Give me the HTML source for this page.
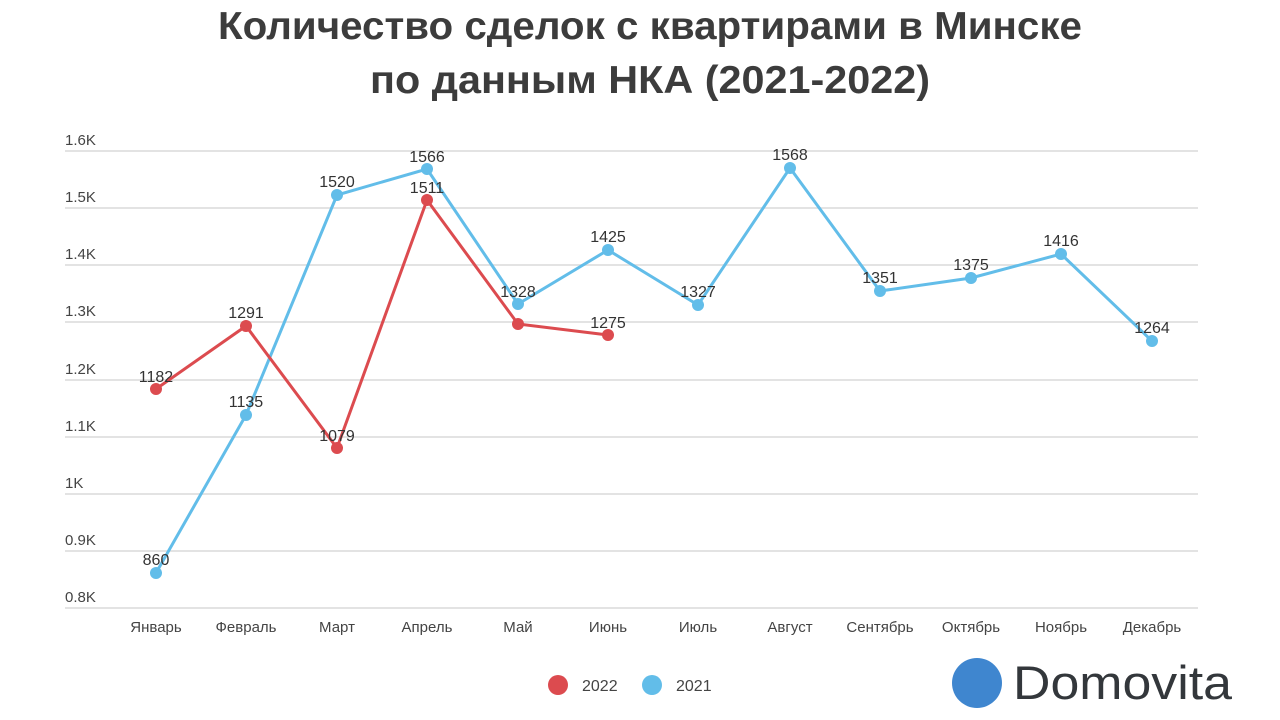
<!DOCTYPE html>
<html><head><meta charset="utf-8"><style>
html,body{margin:0;padding:0;background:#fff;}
svg{display:block;font-family:"Liberation Sans","DejaVu Sans",sans-serif;}
</style></head><body>
<svg width="1280" height="720" viewBox="0 0 1280 720" xmlns="http://www.w3.org/2000/svg">
<text x="218" y="39" textLength="864" lengthAdjust="spacingAndGlyphs" font-size="39" font-weight="bold" fill="#3c3c3c">Количество сделок с квартирами в Минске</text>
<text x="370" y="93" textLength="560" lengthAdjust="spacingAndGlyphs" font-size="39" font-weight="bold" fill="#3c3c3c">по данным НКА (2021-2022)</text>
<g stroke="#e3e3e3" stroke-width="2">
<line x1="65" x2="1198" y1="151" y2="151"/><line x1="65" x2="1198" y1="208" y2="208"/>
<line x1="65" x2="1198" y1="265" y2="265"/><line x1="65" x2="1198" y1="322" y2="322"/>
<line x1="65" x2="1198" y1="380" y2="380"/><line x1="65" x2="1198" y1="437" y2="437"/>
<line x1="65" x2="1198" y1="494" y2="494"/><line x1="65" x2="1198" y1="551" y2="551"/>
<line x1="65" x2="1198" y1="608" y2="608"/>
</g>
<g font-size="15" fill="#444">
<text x="65" y="145">1.6K</text><text x="65" y="202">1.5K</text><text x="65" y="259">1.4K</text>
<text x="65" y="316">1.3K</text><text x="65" y="374">1.2K</text><text x="65" y="431">1.1K</text>
<text x="65" y="488">1K</text><text x="65" y="545">0.9K</text><text x="65" y="602">0.8K</text>
</g>
<g font-size="15" fill="#444" text-anchor="middle">
<text x="156" y="632">Январь</text><text x="246" y="632">Февраль</text><text x="337" y="632">Март</text>
<text x="427" y="632">Апрель</text><text x="518" y="632">Май</text><text x="608" y="632">Июнь</text>
<text x="698" y="632">Июль</text><text x="790" y="632">Август</text><text x="880" y="632">Сентябрь</text>
<text x="971" y="632">Октябрь</text><text x="1061" y="632">Ноябрь</text><text x="1152" y="632">Декабрь</text>
</g>
<polyline fill="none" stroke="#62bde9" stroke-width="3" points="156,573 246,415 337,195 427,169 518,304 608,250 698,305 790,168 880,291 971,278 1061,254 1152,341"/>
<polyline fill="none" stroke="#dc4b4f" stroke-width="3" points="156,389 246,326 337,448 427,200 518,324 608,335"/>
<g fill="#62bde9">
<circle cx="156" cy="573" r="6"/><circle cx="246" cy="415" r="6"/><circle cx="337" cy="195" r="6"/><circle cx="427" cy="169" r="6"/><circle cx="518" cy="304" r="6"/><circle cx="608" cy="250" r="6"/><circle cx="698" cy="305" r="6"/><circle cx="790" cy="168" r="6"/><circle cx="880" cy="291" r="6"/><circle cx="971" cy="278" r="6"/><circle cx="1061" cy="254" r="6"/><circle cx="1152" cy="341" r="6"/>
</g>
<g fill="#dc4b4f">
<circle cx="156" cy="389" r="6"/><circle cx="246" cy="326" r="6"/><circle cx="337" cy="448" r="6"/><circle cx="427" cy="200" r="6"/><circle cx="518" cy="324" r="6"/><circle cx="608" cy="335" r="6"/>
</g>
<g font-size="16" fill="#333" text-anchor="middle">
<text x="156" y="565">860</text><text x="246" y="407">1135</text><text x="337" y="187">1520</text><text x="427" y="162">1566</text>
<text x="518" y="297">1328</text><text x="608" y="242">1425</text><text x="698" y="297">1327</text><text x="790" y="160">1568</text>
<text x="880" y="283">1351</text><text x="971" y="270">1375</text><text x="1061" y="246">1416</text><text x="1152" y="333">1264</text>
<text x="156" y="382">1182</text><text x="246" y="318">1291</text><text x="337" y="441">1079</text><text x="427" y="193">1511</text>
<text x="608" y="328">1275</text>
</g>
<circle cx="558" cy="685" r="10" fill="#dc4b4f"/>
<text x="582" y="691" font-size="16" fill="#444">2022</text>
<circle cx="652" cy="685" r="10" fill="#62bde9"/>
<text x="676" y="691" font-size="16" fill="#444">2021</text>
<circle cx="977" cy="683" r="25" fill="#3f86cf"/>
<text x="1013" y="699" textLength="219" lengthAdjust="spacingAndGlyphs" font-size="47" fill="#33373b">Domovita</text>
</svg>
</body></html>
